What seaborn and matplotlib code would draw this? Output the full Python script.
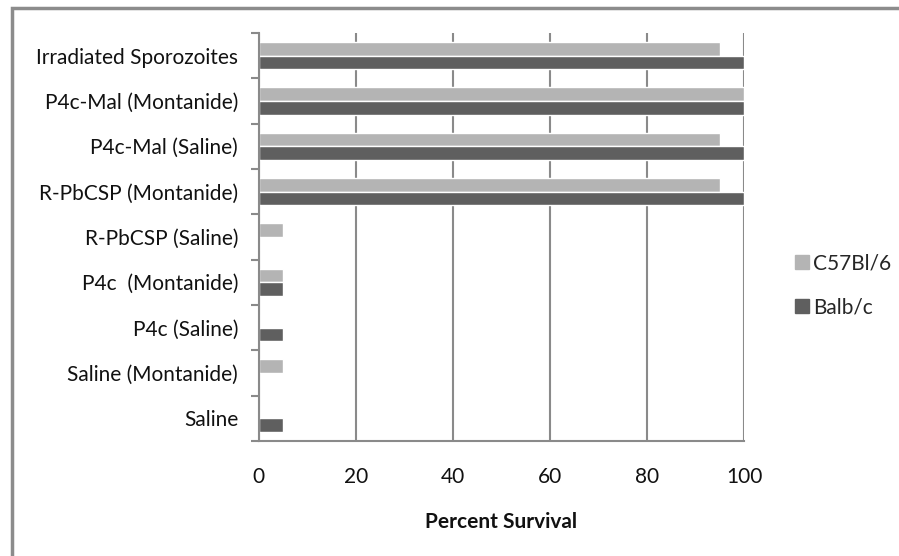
import matplotlib
matplotlib.use("Agg")
import matplotlib.pyplot as plt
from matplotlib.patches import Rectangle
from matplotlib.lines import Line2D
import seaborn as sns
import pandas as pd

groups = [
    "Irradiated Sporozoites",
    "P4c-Mal (Montanide)",
    "P4c-Mal (Saline)",
    "R-PbCSP (Montanide)",
    "R-PbCSP (Saline)",
    "P4c  (Montanide)",
    "P4c (Saline)",
    "Saline (Montanide)",
    "Saline",
]
c57bl6 = [95, 100, 95, 95, 5, 5, 0, 5, 0]
balbc = [100, 100, 100, 100, 0, 5, 5, 0, 5]
strains = ["C57Bl/6", "Balb/c"]
x_ticks = [0, 20, 40, 60, 80, 100]

LIGHT = "#b4b4b4"
DARK = "#5f5f5f"
GRID = "#8a8a8a"
FS = 15

df = pd.DataFrame({
    "group": groups * 2,
    "strain": [strains[0]] * len(groups) + [strains[1]] * len(groups),
    "survival": c57bl6 + balbc,
})

sns.set_theme(style="white")
plt.rcParams["font.family"] = ["Lato", "DejaVu Sans"]

fig = plt.figure(figsize=(8.99, 5.56), dpi=100)
ax = fig.add_axes([0.288, 0.2068, 0.5396, 0.7338])

sns.barplot(
    data=df, y="group", x="survival", hue="strain", order=groups,
    hue_order=strains, palette={strains[0]: LIGHT, strains[1]: DARK},
    orient="h", width=0.6, saturation=1, ax=ax, legend=False,
)

ax.set_xlim(0, 100)
ax.set_ylim(len(groups) - 0.5, -0.5)
ax.set_xticks(x_ticks)
ax.set_xticklabels([str(t) for t in x_ticks], fontsize=FS, color="#111111")
ax.tick_params(axis="x", length=5, width=1.5, color=GRID, pad=14, direction="out")
ax.tick_params(axis="y", which="major", length=0, pad=15, labelsize=FS, labelcolor="#111111")
ax.set_yticks(range(len(groups)))
ax.set_yticklabels(groups)
ax.set_yticks([i - 0.5 for i in range(len(groups) + 1)], minor=True)
ax.tick_params(axis="y", which="minor", length=6, width=1.5, color=GRID, direction="out", left=True)
ax.set_ylabel("")
ax.set_xlabel("Percent Survival", fontsize=FS, fontweight="bold", labelpad=18, color="#111111")

ax.grid(axis="x", color=GRID, linewidth=1.5)
ax.set_axisbelow(True)
for side in ["top", "right"]:
    ax.spines[side].set_visible(False)
for side in ["left", "bottom"]:
    ax.spines[side].set_color(GRID)
    ax.spines[side].set_linewidth(1.5)

handles = [
    Line2D([], [], marker="s", linestyle="none", markersize=10, markerfacecolor=LIGHT, markeredgecolor=LIGHT),
    Line2D([], [], marker="s", linestyle="none", markersize=10, markerfacecolor=DARK, markeredgecolor=DARK),
]
fig.legend(handles, strains, loc="center left", bbox_to_anchor=(0.864, 0.487),
           frameon=False, fontsize=15, handletextpad=0.05, labelspacing=1.15,
           handlelength=1.0, borderpad=0.2)

fig.patches.append(Rectangle((0.013, -0.05), 1.2, 0.036 + 1.0, transform=fig.transFigure,
                             fill=False, edgecolor="#8c8c8c", linewidth=2.5, zorder=0))

fig.savefig("out.png", dpi=100, facecolor="white")
